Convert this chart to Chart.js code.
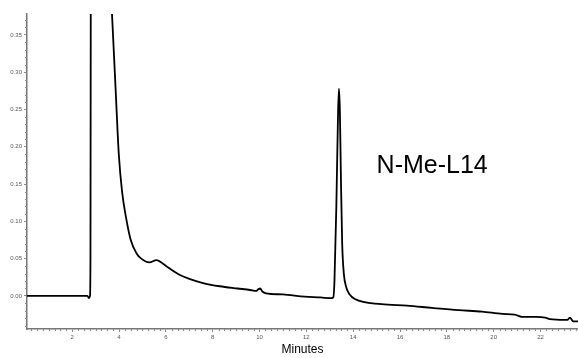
<!DOCTYPE html>
<html>
<head>
<meta charset="utf-8">
<script src="https://cdn.jsdelivr.net/npm/chart.js@4/dist/chart.umd.min.js"></script>
<style>
  html, body { margin: 0; padding: 0; background: #fff; }
  canvas { display: block; }
</style>
</head>
<body>
<canvas id="chrom" width="578" height="358"></canvas>
<script>
// Retention time (min) and detector signal
const times = [
  0.07, 1.0, 2.0, 2.65, 2.72, 2.76, 2.78, 2.80, 2.85, 3.0, 3.3, 3.55,
  3.70, 3.85, 3.99, 4.13, 4.30, 4.50, 4.75, 4.95, 5.30, 5.60, 5.85, 6.06,
  6.60, 7.00, 7.63, 8.30, 9.07, 9.60, 9.85, 9.95, 10.03, 10.12, 10.28, 11.0,
  11.93, 12.60, 13.07, 13.15, 13.20, 13.28, 13.35, 13.39, 13.43, 13.48, 13.53, 13.60,
  13.70, 13.85, 14.07, 15.2, 16.3, 17.36, 18.5, 19.5, 20.37, 20.9, 21.2, 21.8,
  22.2, 22.4, 23.05, 23.15, 23.25, 23.4, 23.6
];
const signal = [
  0.000, 0.000, 0.000, 0.000, -0.003, 0.000, 0.050, 0.600, 1.200, 1.500, 1.200, 0.470,
  0.378, 0.280, 0.190, 0.140, 0.105, 0.075, 0.057, 0.050, 0.045, 0.048, 0.044, 0.039,
  0.028, 0.023, 0.017, 0.013, 0.010, 0.008, 0.0067, 0.009, 0.010, 0.006, 0.0036, 0.002,
  -0.001, -0.002, -0.003, -0.002, 0.020, 0.120, 0.240, 0.278, 0.250, 0.150, 0.070, 0.030,
  0.012, 0.002, -0.004, -0.011, -0.013, -0.016, -0.019, -0.021, -0.024, -0.025, -0.028, -0.028,
  -0.029, -0.031, -0.032, -0.032, -0.029, -0.034, -0.034
];

// Axis ticks
const xLabels = [2, 4, 6, 8, 10, 12, 14, 16, 18, 20, 22];
const yLabels = [0.00, 0.05, 0.10, 0.15, 0.20, 0.25, 0.30, 0.35];
const xMinor = [];
for (let m = 0.25; m < 23.6; m += 0.25) if (m % 2 !== 0) xMinor.push(m);
const yMinor = [];
for (let i = -4; i <= 37; i++) if (i % 5 !== 0) yMinor.push(i / 100);

const peakLabel = 'N-Me-L14';

const points = times.map((t, i) => ({ x: t, y: signal[i] }));

// small tick marks between the labelled ones, plus the peak name
const extras = {
  id: 'extras',
  afterDraw(chart) {
    const { ctx, scales: { x, y } } = chart;
    ctx.save();
    ctx.strokeStyle = '#888';
    ctx.lineWidth = 1;
    ctx.beginPath();
    xMinor.forEach(v => {
      const px = Math.round(x.getPixelForValue(v)) + 0.5;
      ctx.moveTo(px, y.bottom);
      ctx.lineTo(px, y.bottom + 2);
    });
    yMinor.forEach(v => {
      const py = Math.round(y.getPixelForValue(v)) + 0.5;
      ctx.moveTo(x.left, py);
      ctx.lineTo(x.left - 2, py);
    });
    ctx.stroke();

    ctx.fillStyle = '#000';
    ctx.font = '25px "Liberation Sans", Arial, sans-serif';
    ctx.textAlign = 'left';
    ctx.textBaseline = 'alphabetic';
    ctx.fillText(peakLabel, x.getPixelForValue(15.0), y.getPixelForValue(0.165));
    ctx.restore();
  }
};

new Chart(document.getElementById('chrom'), {
  type: 'line',
  data: {
    datasets: [{
      data: points,
      borderColor: '#000',
      borderWidth: 1.8,
      pointRadius: 0,
      cubicInterpolationMode: 'monotone',
      fill: false
    }]
  },
  options: {
    responsive: false,
    animation: false,
    layout: { padding: { top: 14, right: 0, left: 0, bottom: 0 } },
    plugins: { legend: { display: false }, tooltip: { enabled: false } },
    scales: {
      x: {
        type: 'linear',
        min: 0.07,
        max: 23.6,
        afterBuildTicks: s => { s.ticks = xLabels.map(v => ({ value: v })); },
        afterFit: s => { s.height = 29; },
        border: { color: '#777', width: 1.5 },
        grid: { drawOnChartArea: false, tickLength: 3, color: '#888' },
        ticks: {
          autoSkip: false,
          maxRotation: 0,
          padding: 2,
          color: '#555',
          font: { family: '"Liberation Sans", Arial, sans-serif', size: 6 }
        },
        title: {
          display: true,
          text: 'Minutes',
          color: '#000',
          padding: { top: 0, bottom: 1 },
          font: { family: '"Liberation Sans", Arial, sans-serif', size: 12 }
        }
      },
      y: {
        min: -0.0443,
        max: 0.378,
        afterBuildTicks: s => { s.ticks = yLabels.map(v => ({ value: v })); },
        afterFit: s => { s.width = 27; },
        border: { color: '#777', width: 1.5 },
        grid: { drawOnChartArea: false, tickLength: 3, color: '#888' },
        ticks: {
          autoSkip: false,
          padding: 2,
          color: '#555',
          font: { family: '"Liberation Sans", Arial, sans-serif', size: 6 },
          callback: v => v.toFixed(2)
        }
      }
    }
  },
  plugins: [extras]
});
</script>
</body>
</html>
